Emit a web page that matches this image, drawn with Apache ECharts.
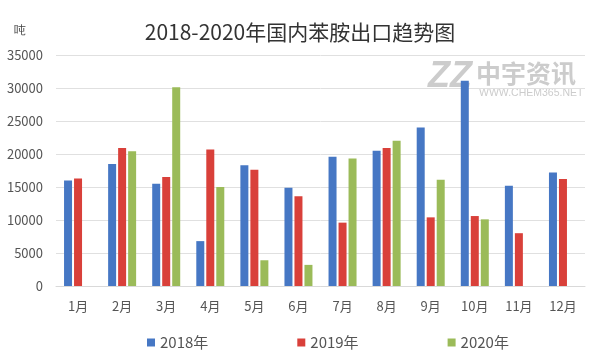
<!DOCTYPE html>
<html><head><meta charset="utf-8">
<script src="https://cdn.jsdelivr.net/npm/echarts@6/dist/echarts.min.js"></script>
<style>html,body{margin:0;padding:0;background:#fff}#c{width:600px;height:360px}</style>
</head><body><div id="c"></div>
<script>
const categories = ['1月','2月','3月','4月','5月','6月','7月','8月','9月','10月','11月','12月'];
const seriesNames = ['2018年','2019年','2020年'];
const data2018 = [16000,18500,15500,6800,18300,14900,19600,20500,24000,31100,15200,17200];
const data2019 = [16300,20900,16500,20700,17600,13600,9600,20900,10400,10600,8000,16200];
const data2020 = [null,20400,30100,15000,3900,3200,19300,22000,16100,10100,null,null];
const colors = ['#4677C4','#D9403A','#9BBB59'];
const font = '"Microsoft YaHei","Noto Sans CJK SC",sans-serif';
const chart = echarts.init(document.getElementById('c'));
const allData = [data2018, data2019, data2020];
chart.setOption({
  animation:false,
  color: colors,
  title:{text:'2018-2020年国内苯胺出口趋势图',left:'center',top:17,textStyle:{fontSize:21,fontWeight:'normal',color:'#333',fontFamily:font}},
  graphic:[
    {type:'text',left:14,top:25,style:{text:'吨',fontSize:12,fill:'#444',font:'12px '+font}},
    {type:'text',left:428,top:59,style:{text:'ZZ',fill:'#cccccc',font:'italic bold 36px sans-serif'}},
    {type:'text',left:476,top:61,style:{text:'中宇资讯',fill:'#cccccc',font:'bold 25px '+font}},
    {type:'text',left:479,top:88,style:{text:'WWW.CHEM365.NET',fill:'#cccccc',font:'10.5px sans-serif'}}
  ],
  legend:{left:142,top:330,itemWidth:8,itemHeight:8,itemGap:89,icon:'rect',textStyle:{fontSize:15,color:'#555',fontFamily:font},data:seriesNames},
  grid:{left:56,right:15,top:55,bottom:74},
  xAxis:{type:'category',data:categories,axisTick:{show:false},axisLine:{lineStyle:{color:'#d9d9d9'}},axisLabel:{fontSize:13,color:'#555',margin:14,fontFamily:font}},
  yAxis:{type:'value',min:0,max:35000,interval:5000,axisLabel:{fontSize:13,color:'#555',margin:13,fontFamily:font,formatter:v=>String(v)},splitLine:{lineStyle:{color:'#e0e0e0'}},axisLine:{show:false},axisTick:{show:false}},
  series: seriesNames.map((n,i)=>({name:n,type:'bar',data:allData[i],barWidth:8,barGap:'25%'}))
});
</script></body></html>
